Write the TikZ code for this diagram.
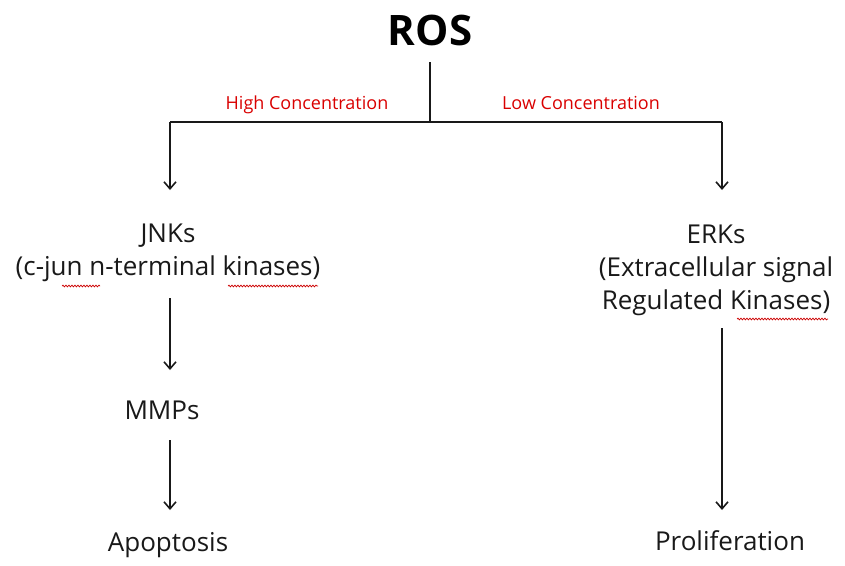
\documentclass[tikz,border=0pt]{standalone}
\usepackage{fontspec}
\setmainfont{Open Sans}
\usetikzlibrary{arrows.meta,decorations.pathmorphing}
\begin{document}
\begin{tikzpicture}[x=1pt,y=-1pt,
  lbl/.style={font=\fontsize{26}{33}\selectfont, align=center, inner sep=0pt, text=black!90},
  cond/.style={font=\fontsize{18}{20}\selectfont, text=red!85!black, inner sep=0pt, anchor=base},
  conn/.style={line width=1.8pt, black!90},
  arr/.style={conn, -{Straight Barb[length=7pt,width=12pt,line width=1.6pt]}},
  squig/.style={red!80!black, line width=0.7pt, decorate, decoration={snake,amplitude=0.9pt,segment length=3pt}}]
\useasboundingbox (0,0) rectangle (845,565);
\node[font=\fontsize{42}{42}\selectfont\bfseries, inner sep=0pt] (ros) at (430,30) {ROS};
\coordinate (top) at (430,62);
\coordinate (mid) at (430,122);
\coordinate (lc) at (170,122);
\coordinate (rc) at (722,122);
\node[cond] (high) at (307,109) {High Concentration};
\node[cond] (low) at (581,109) {Low Concentration};
\node[lbl] (jnk) at (168,253) {JNKs\\(c-jun n-terminal kinases)};
\node[lbl] (erk) at (716,270) {ERKs\\(Extracellular signal\\ Regulated Kinases)};
\node[lbl] (mmp) at (162,410) {MMPs};
\node[lbl] (apo) at (168,545) {Apoptosis};
\node[lbl] (pro) at (730,541) {Proliferation};
\draw[conn] (top) -- (mid);
\draw[conn] (lc) -- (rc);
\draw[arr] (lc) -- (170,190);
\draw[arr] (rc) -- (722,190);
\draw[arr] (170,298) -- (170,370);
\draw[arr] (170,440) -- (170,510);
\draw[arr] (722,328) -- (722,510);
\draw[squig] (62,286) -- (100,286);
\draw[squig] (228,286) -- (318,286);
\draw[squig] (737,319) -- (828,319);
\end{tikzpicture}
\end{document}
